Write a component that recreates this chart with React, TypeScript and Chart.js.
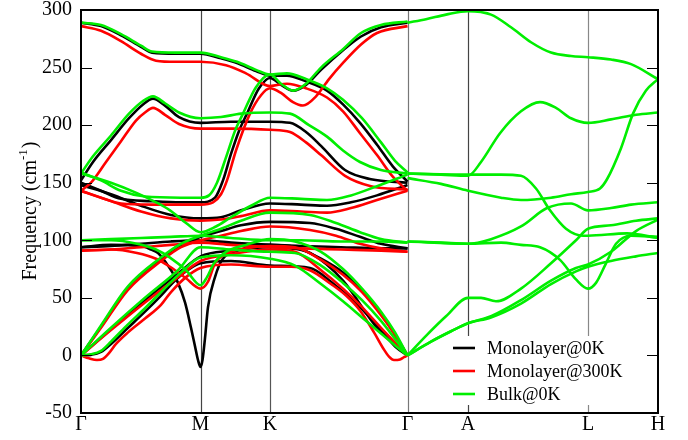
import React, { useEffect, useRef } from 'react';
import { Chart, registerables } from 'chart.js';

Chart.register(...registerables);

// High-symmetry path (x in path units), labels and y ticks
const kPointPos = [0, 119.5, 189, 326.5, 387, 507, 577];
const kPointLabels = ['Γ', 'M', 'K', 'Γ', 'A', 'L', 'H'];
const yTicks = [-50, 0, 50, 100, 150, 200, 250, 300];
const seriesNames = ['Monolayer@0K', 'Monolayer@300K', 'Bulk@0K'];
const seriesColors = ['#000000', '#ff0000', '#00ee00'];

// Monolayer @ 0K bands: [x, frequency]
const mono0K: number[][][] = [
  [[0,289],[20,286],[40,278],[60,268],[71,263],[95,262],[119.5,262],[140,258],[156,254],[175,247],[189,243],[206,243],[225,238],[246,230],[262,218],[279,202],[296,183],[312,164],[326.5,151]],
  [[0,150],[20,143],[40,136],[70,134],[100,133],[119.5,133],[134,137],[142,152],[150,175],[158,195],[166,210],[178,232],[189,241],[200,235],[212,230],[225,235],[240,248],[262,265],[280,277],[300,285],[326.5,289]],
  [[0,152],[12,168],[30,187],[48,206],[62,218],[72,223],[84,217],[98,207],[119.5,202],[150,203],[189,203],[209,202],[225,194],[240,182],[264,161],[290,153],[326.5,150]],
  [[0,148],[30,140],[60,130],[90,122],[119.5,119],[140,120],[160,126],[189,132],[220,131],[246,130],[270,133],[296,139],[326.5,148]],
  [[0,0],[20,25],[47,59],[80,83],[100,95],[119.5,103],[140,108],[160,113],[189,116],[229,115],[255,110],[279,103],[300,97],[326.5,93]],
  [[0,94],[30,96],[60,95],[70,92],[77,89],[87,78],[97,63],[104,46],[110,24],[114,8],[117,-4],[119.5,-10],[121.5,-4],[124,15],[127,42],[134,68],[141,83],[157,91],[189,96],[214,94],[240,84],[262,72],[281,56],[300,36],[314,18],[326.5,0]],
  [[0,94],[30,95],[60,97],[90,99],[119.5,100],[150,98],[189,96],[220,95],[260,94],[300,93],[326.5,93]],
  [[0,0],[30,23],[64,48],[97,71],[119.5,86],[150,91],[189,94],[210,93],[229,89],[262,65],[296,24],[326.5,0]],
  [[0,0],[10,0.5],[20,3],[30,10],[47,24],[64,38],[80,52],[95,66],[110,76],[119.5,80],[150,82],[189,78],[229,76],[250,64],[279,42],[300,22],[315,7],[326.5,0]],
];

// Monolayer @ 300K bands
const mono300K: number[][][] = [
  [[0,286],[20,282],[40,273],[60,262],[75,256],[95,255],[119.5,255],[145,252],[165,245],[189,234],[206,236],[225,232],[246,224],[262,212],[279,193],[296,174],[312,155],[326.5,143]],
  [[0,143],[20,137],[40,132],[70,131],[100,131],[119.5,131],[132,133],[140,140],[146,152],[155,178],[169,210],[180,226],[189,232],[200,228],[212,220],[222,217],[235,225],[248,240],[262,254],[280,270],[296,280],[326.5,286]],
  [[0,143],[10,150],[25,168],[40,186],[55,204],[64,211],[72,215],[84,209],[98,201],[119.5,197],[150,197],[189,196],[209,194],[225,185],[240,174],[264,156],[290,147],[326.5,144]],
  [[0,143],[30,134],[60,125],[90,119],[119.5,117],[140,118],[160,121],[189,126],[220,125],[246,124],[270,128],[296,135],[326.5,143]],
  [[0,0],[20,24],[47,57],[80,82],[100,94],[119.5,100],[140,104],[160,108],[189,112],[229,109],[255,104],[279,97],[300,93],[326.5,90]],
  [[0,91],[30,92],[56,89],[75,84],[89,77],[105,67],[119.5,58],[127,64],[134,80],[147,89],[165,93],[189,95],[214,94],[240,83],[262,70],[281,55],[300,35],[314,18],[326.5,0]],
  [[0,91],[30,92],[60,94],[90,96],[119.5,98],[150,96],[189,94],[220,93],[260,92],[300,91],[326.5,90]],
  [[0,0],[30,22],[64,46],[97,68],[119.5,82],[150,88],[189,92],[214,90],[240,74],[262,58],[281,42],[300,24],[326.5,0]],
  [[0,0],[8,-2.5],[16,-4],[22,-3],[28,2],[35,10],[47,20],[64,32],[80,44],[90,55],[105,68],[119.5,76],[150,79],[189,77],[210,77],[229,74],[250,62],[265,52],[279,39],[293,20],[303,5],[308,-1],[313,-4],[319,-3.5],[323,-1.5],[326.5,0]],
];

// Bulk @ 0K bands
const bulk0K: number[][][] = [
  [[0,289],[20,287],[40,279],[60,269],[71,264],[95,263],[119.5,263],[140,259],[156,255],[175,248],[189,244],[206,245],[225,240],[246,232],[262,222],[281,206],[300,185],[314,169],[326.5,159]],
  [[0,159],[20,152],[40,143],[64,138],[100,137],[119.5,137],[128,139],[136,150],[145,172],[154,195],[162,210],[175,233],[189,244],[200,236],[212,230],[225,236],[240,250],[262,266],[280,280],[300,287],[326.5,290]],
  [[0,158],[12,173],[30,191],[48,210],[62,221],[72,225],[84,219],[98,211],[119.5,206],[140,207],[160,210],[189,211],[209,210],[228,200],[246,190],[262,178],[279,168],[300,161],[326.5,158]],
  [[0,158],[30,150],[56,141],[75,133],[89,126],[105,115],[119.5,107],[135,112],[150,120],[170,130],[189,137],[220,136],[246,135],[270,139],[296,147],[326.5,157]],
  [[0,0],[20,26],[47,60],[80,85],[100,97],[119.5,104],[140,110],[160,117],[189,124],[229,122],[255,115],[279,107],[300,101],[326.5,98]],
  [[0,100],[30,100],[56,97],[75,92],[89,85],[105,74],[119.5,61],[126,68],[133,80],[145,90],[165,96],[189,101],[214,99],[240,90],[262,75],[281,58],[300,38],[314,20],[326.5,0]],
  [[0,100],[30,101],[60,102],[90,103],[119.5,104],[150,102],[189,100],[220,100],[260,99],[300,99],[326.5,98]],
  [[0,0],[30,24],[64,50],[97,74],[119.5,94],[150,92],[189,90],[214,89],[240,78],[262,63],[281,48],[300,30],[326.5,0]],
  [[0,0],[10,1],[20,4],[30,12],[47,27],[64,41],[80,55],[100,72],[119.5,85],[150,87],[189,84],[214,78],[240,62],[262,47],[281,33],[300,19],[315,8],[326.5,0]],
  [[326.5,289],[345,292],[365,296],[387,299],[410,296],[430,285],[450,272],[470,263],[490,260],[507,259],[530,257],[550,253],[577,240]],
  [[326.5,158],[360,157],[387,156],[400,168],[419,193],[440,212],[459,220],[475,215],[490,206],[507,202],[530,205],[555,209],[577,211]],
  [[326.5,158],[387,157],[420,157],[440,156],[455,145],[469,126],[485,110],[502,104],[507,104],[546,106],[577,102]],
  [[326.5,154],[360,149],[387,143],[420,137],[440,135],[470,137],[490,140],[507,142],[519,145],[526,153],[540,180],[552,210],[565,230],[577,240]],
  [[326.5,99],[360,98],[387,97],[410,101],[440,112],[466,128],[490,132],[507,126],[530,128],[550,131],[577,133]],
  [[326.5,99],[387,97],[420,98],[440,96],[459,94],[479,83],[495,66],[507,58],[515,63],[525,80],[535,97],[550,104],[577,103]],
  [[326.5,0],[345,17],[365,34],[387,50],[400,50],[415,47],[440,58],[470,80],[495,100],[507,110],[530,113],[555,117],[577,119]],
  [[326.5,0],[350,12],[370,21],[387,28],[410,34],[440,48],[470,65],[495,76],[507,79],[530,90],[555,108],[577,118]],
  [[326.5,0],[350,12],[370,21],[387,28],[410,33],[440,45],[470,62],[495,73],[507,77],[530,82],[555,86],[577,89]],
];

const FONT = 'Liberation Serif, Times New Roman, serif';

const decorPlugin = {
  id: 'decor',
  beforeDatasetsDraw(chart: any) {
    const { ctx, chartArea: a, scales } = chart;
    const xs = scales.x;
    ctx.save();
    const lineColors = ['#000', '#444', '#555', '#777', '#444', '#888', '#000'];
    kPointPos.forEach((v, i) => {
      if (i === 0 || i === kPointPos.length - 1) return;
      const px = Math.round(xs.getPixelForValue(v)) + 0.5;
      ctx.strokeStyle = lineColors[i];
      ctx.lineWidth = 1.2;
      ctx.beginPath();
      ctx.moveTo(px, a.top);
      ctx.lineTo(px, a.bottom);
      ctx.stroke();
    });
    ctx.restore();
  },
  afterDatasetsDraw(chart: any) {
    const { ctx, chartArea: a, scales } = chart;
    const xs = scales.x;
    const ys = scales.y;
    ctx.save();
    // legend box
    ctx.fillStyle = '#fff';
    ctx.fillRect(448, 336, a.right - 449, 69);
    // ticks
    ctx.strokeStyle = '#000';
    ctx.lineWidth = 1.2;
    yTicks.forEach((v) => {
      const py = Math.round(ys.getPixelForValue(v)) + 0.5;
      ctx.beginPath();
      ctx.moveTo(a.left, py);
      ctx.lineTo(a.left + 11, py);
      ctx.moveTo(a.right, py);
      ctx.lineTo(a.right - 11, py);
      ctx.stroke();
    });
    // frame
    ctx.lineWidth = 2;
    ctx.strokeRect(a.left, a.top, a.right - a.left, a.bottom - a.top);
    // y tick labels
    ctx.fillStyle = '#000';
    ctx.font = `20px ${FONT}`;
    ctx.textAlign = 'right';
    ctx.textBaseline = 'middle';
    yTicks.forEach((v) => {
      ctx.fillText(String(v), a.left - 9, ys.getPixelForValue(v));
    });
    // x labels
    ctx.textAlign = 'center';
    ctx.textBaseline = 'top';
    kPointPos.forEach((v, i) => {
      ctx.fillText(kPointLabels[i], xs.getPixelForValue(v), a.bottom + 2);
    });
    // y title with superscript
    ctx.save();
    ctx.translate(31, (a.top + a.bottom) / 2);
    ctx.rotate(-Math.PI / 2);
    const main = `20px ${FONT}`;
    const sup = `13px ${FONT}`;
    ctx.font = main;
    const t1 = 'Frequency (cm';
    const w1 = ctx.measureText(t1).width;
    const w3 = ctx.measureText(')').width;
    ctx.font = sup;
    const w2 = ctx.measureText('-1').width;
    const x0 = -(w1 + w2 + w3) / 2;
    ctx.textAlign = 'left';
    ctx.textBaseline = 'middle';
    ctx.font = main;
    ctx.fillText(t1, x0, 0);
    ctx.font = sup;
    ctx.fillText('-1', x0 + w1, -7);
    ctx.font = main;
    ctx.fillText(')', x0 + w1 + w2 + 1, 0);
    ctx.restore();
    // legend
    ctx.font = `18px ${FONT}`;
    ctx.textAlign = 'left';
    ctx.textBaseline = 'middle';
    seriesNames.forEach((n, i) => {
      const y = 348 + i * 23;
      ctx.strokeStyle = seriesColors[i];
      ctx.lineWidth = 2.6;
      ctx.beginPath();
      ctx.moveTo(453, y);
      ctx.lineTo(475, y);
      ctx.stroke();
      ctx.fillStyle = '#000';
      ctx.fillText(n, 487, y + 1);
    });
    ctx.restore();
  },
};

export default function App() {
  const ref = useRef<HTMLCanvasElement | null>(null);
  useEffect(() => {
    if (!ref.current) return;
    const groups = [
      { bands: bulk0K, color: seriesColors[2], order: 0 },
      { bands: mono300K, color: seriesColors[1], order: 1 },
      { bands: mono0K, color: seriesColors[0], order: 2 },
    ];
    const datasets: any[] = [];
    groups.forEach((g) => {
      g.bands.forEach((b) => {
        datasets.push({
          data: b.map(([x, y]) => ({ x, y })),
          borderColor: g.color,
          borderWidth: 2.6,
          pointRadius: 0,
          fill: false,
          cubicInterpolationMode: 'monotone',
          order: g.order,
        });
      });
    });
    const chart = new Chart(ref.current, {
      type: 'scatter',
      data: { datasets },
      options: {
        animation: false,
        responsive: false,
        devicePixelRatio: 1,
        showLine: true,
        layout: { padding: { left: 81, top: 10, right: 30, bottom: 27 } },
        plugins: { legend: { display: false }, tooltip: { enabled: false } },
        scales: {
          x: { type: 'linear', min: 0, max: 577, display: false },
          y: { type: 'linear', min: -50, max: 300, display: false },
        },
      } as any,
      plugins: [decorPlugin],
    });
    return () => chart.destroy();
  }, []);
  return (
    <div style={{ position: 'absolute', left: 0, top: 0, width: 688, height: 440, background: '#fff' }}>
      <canvas ref={ref} width={688} height={440} style={{ display: 'block' }} />
    </div>
  );
}
